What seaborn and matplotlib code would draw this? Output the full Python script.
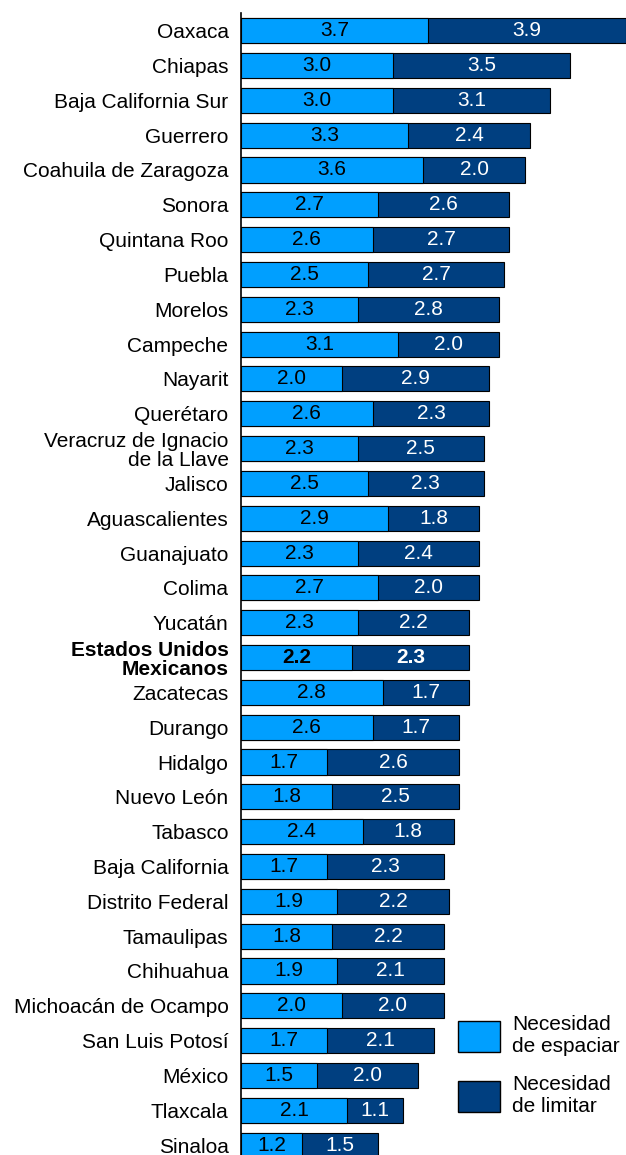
import matplotlib
matplotlib.use("Agg")
import matplotlib.pyplot as plt
import pandas as pd
import seaborn as sns
from matplotlib.patches import Patch

estados = ["Oaxaca", "Chiapas", "Baja California Sur", "Guerrero", "Coahuila de Zaragoza",
           "Sonora", "Quintana Roo", "Puebla", "Morelos", "Campeche", "Nayarit", "Querétaro",
           "Veracruz de Ignacio\nde la Llave", "Jalisco", "Aguascalientes", "Guanajuato",
           "Colima", "Yucatán", "Estados Unidos\nMexicanos", "Zacatecas", "Durango", "Hidalgo",
           "Nuevo León", "Tabasco", "Baja California", "Distrito Federal", "Tamaulipas",
           "Chihuahua", "Michoacán de Ocampo", "San Luis Potosí", "México", "Tlaxcala", "Sinaloa"]
espaciar = [3.7, 3.0, 3.0, 3.3, 3.6, 2.7, 2.6, 2.5, 2.3, 3.1, 2.0, 2.6, 2.3, 2.5, 2.9, 2.3,
            2.7, 2.3, 2.2, 2.8, 2.6, 1.7, 1.8, 2.4, 1.7, 1.9, 1.8, 1.9, 2.0, 1.7, 1.5, 2.1, 1.2]
limitar = [3.9, 3.5, 3.1, 2.4, 2.0, 2.6, 2.7, 2.7, 2.8, 2.0, 2.9, 2.3, 2.5, 2.3, 1.8, 2.4,
           2.0, 2.2, 2.3, 1.7, 1.7, 2.6, 2.5, 1.8, 2.3, 2.2, 2.2, 2.1, 2.0, 2.1, 2.0, 1.1, 1.5]
nacional = "Estados Unidos\nMexicanos"

claro = "#009FFF"
oscuro = "#003F80"
fs = 15

df = pd.DataFrame({"estado": estados, "espaciar": espaciar, "limitar": limitar})
df["total"] = df["espaciar"] + df["limitar"]

sns.set_style("white")
plt.rcParams["font.family"] = ["Liberation Sans", "DejaVu Sans"]
plt.rcParams["text.color"] = "black"
plt.rcParams["ytick.color"] = "black"
plt.rcParams["ytick.labelcolor"] = "black"

fig = plt.figure(figsize=(6.26, 11.55), dpi=100)
ax = fig.add_axes([241 / 626, -0.0065, 1 - 241 / 626, 0.995])

# total bar first (dark), then the light part on top from zero
sns.barplot(data=df, x="total", y="estado", orient="h", color=oscuro, width=0.72,
            edgecolor="black", linewidth=0.8, saturation=1, ax=ax)
sns.barplot(data=df, x="espaciar", y="estado", orient="h", color=claro, width=0.72,
            edgecolor="black", linewidth=0.8, saturation=1, ax=ax)

for i, row in df.iterrows():
    peso = "bold" if row["estado"] == nacional else "normal"
    ax.text(row["espaciar"] / 2, i, f"{row['espaciar']:.1f}", ha="center", va="center",
            fontsize=fs, color="black", fontweight=peso)
    ax.text(row["espaciar"] + row["limitar"] / 2, i, f"{row['limitar']:.1f}", ha="center",
            va="center", fontsize=fs, color="white", fontweight=peso)

ax.set_xlim(0, 7.6)
ax.set_ylim(32.5, -0.5)
ax.set_xlabel("")
ax.set_ylabel("")
ax.set_xticks([])
ax.tick_params(axis="y", length=0, pad=9, labelsize=fs, labelcolor="black")
for lab in ax.get_yticklabels():
    lab.set_linespacing(1.0)
    if lab.get_text() == nacional:
        lab.set_fontweight("bold")

for s in ["top", "right", "bottom"]:
    ax.spines[s].set_visible(False)
ax.spines["left"].set_color("black")
ax.spines["left"].set_linewidth(1.2)

handles = [Patch(facecolor=claro, edgecolor="black", label="Necesidad\nde espaciar"),
           Patch(facecolor=oscuro, edgecolor="black", label="Necesidad\nde limitar")]
fig.legend(handles=handles, loc="upper left", bbox_to_anchor=(458 / 626, 0.1212), frameon=False,
           fontsize=fs, handlelength=2.0, handleheight=1.9, labelspacing=0.9,
           handletextpad=0.6, borderpad=0, borderaxespad=0, labelcolor="black")

fig.savefig("out.png", dpi=100)
